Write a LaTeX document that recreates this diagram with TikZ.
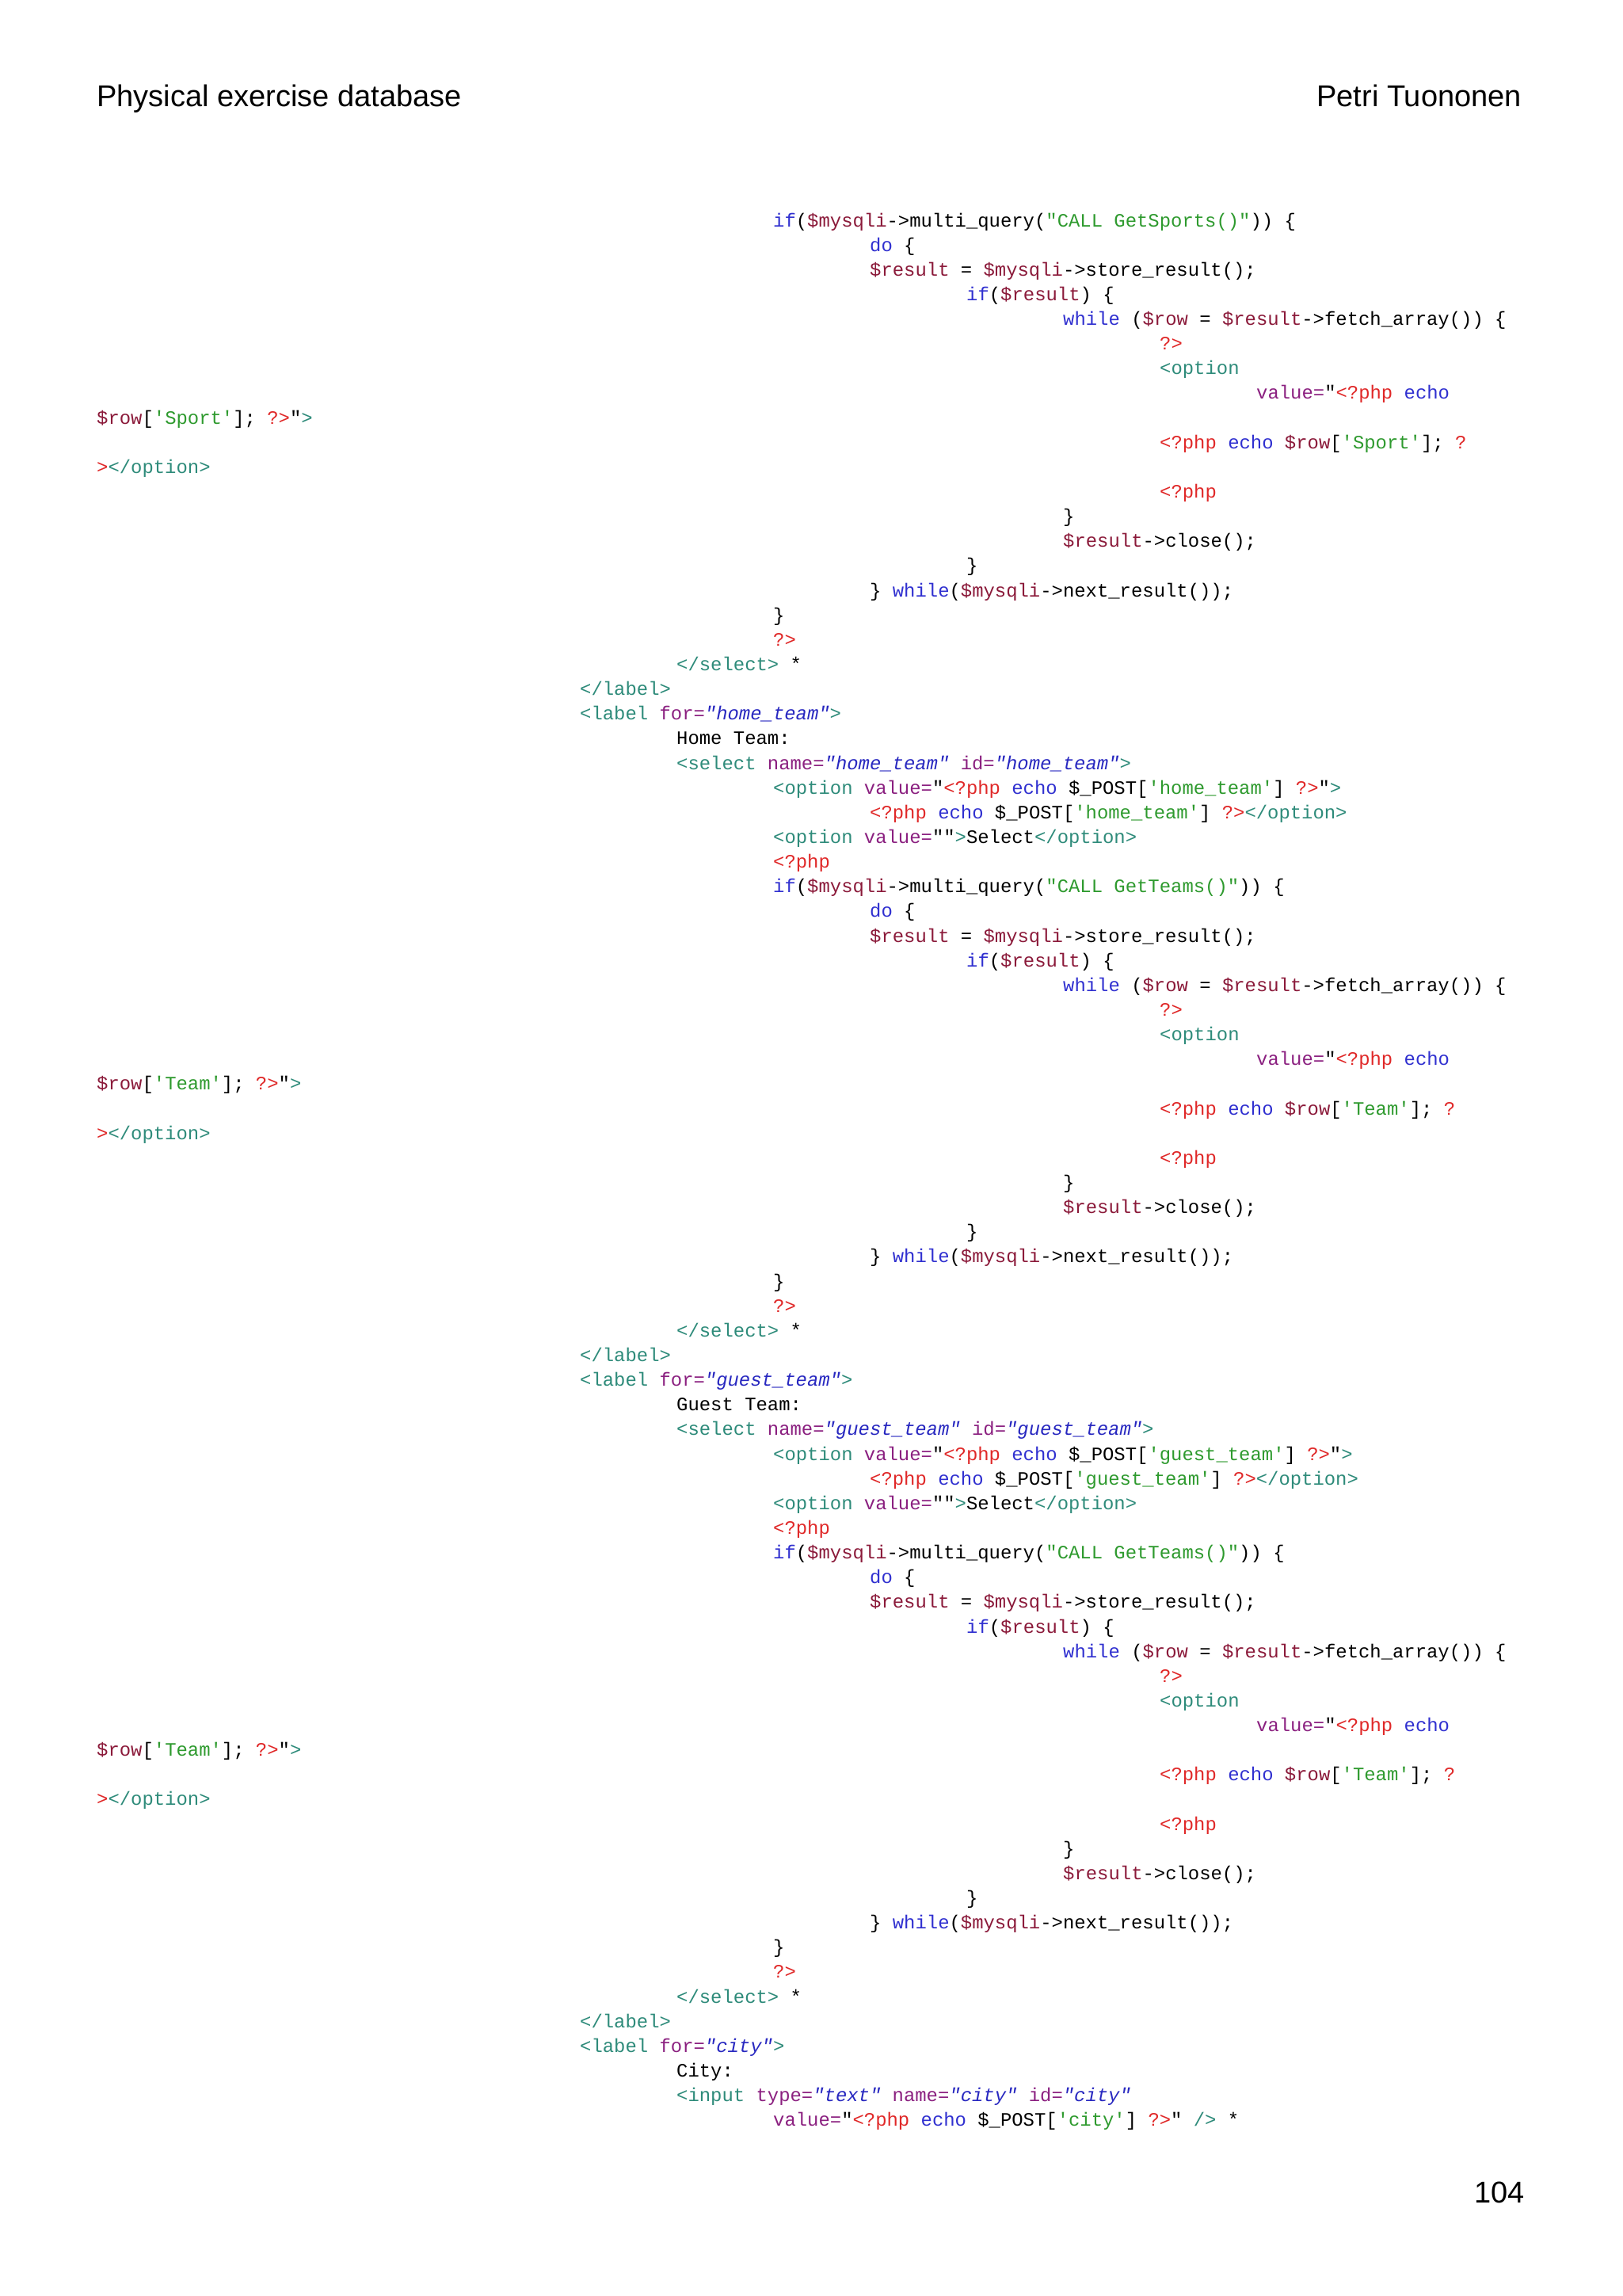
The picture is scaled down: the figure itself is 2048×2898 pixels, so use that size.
\documentclass[tikz,border=0pt]{standalone}
\usepackage{fontspec}
\newfontfamily\cf{Liberation Mono}
\newfontfamily\hf{Liberation Sans}
\definecolor{ckw}{HTML}{3030D0}
\definecolor{cva}{HTML}{8B1A3A}
\definecolor{cst}{HTML}{2E9A2E}
\definecolor{cph}{HTML}{E02828}
\definecolor{ctg}{HTML}{2E8B7A}
\definecolor{cat}{HTML}{8B2080}
\definecolor{cav}{HTML}{2828C0}
\newcommand\kw[1]{\textcolor{ckw}{#1}}
\newcommand\va[1]{\textcolor{cva}{#1}}
\newcommand\st[1]{\textcolor{cst}{#1}}
\newcommand\ph[1]{\textcolor{cph}{#1}}
\newcommand\tg[1]{\textcolor{ctg}{#1}}
\newcommand\at[1]{\textcolor{cat}{#1}}
\newcommand\av[1]{\textcolor{cav}{\itshape #1}}
\newcommand\cl[3]{\node[code] (l#1) at ({122+122*(#2)},{-(286+31.14*(#1-1))}) {#3};}
\newcommand\blk[3]{%
\cl{\the\numexpr#1\relax}{7}{\kw{if}(\va{\$mysqli}->multi\_query(\st{"CALL Get#2()"})) \{}
\cl{\the\numexpr#1+1\relax}{8}{\kw{do} \{}
\cl{\the\numexpr#1+2\relax}{8}{\va{\$result} = \va{\$mysqli}->store\_result();}
\cl{\the\numexpr#1+3\relax}{9}{\kw{if}(\va{\$result}) \{}
\cl{\the\numexpr#1+4\relax}{10}{\kw{while} (\va{\$row} = \va{\$result}->fetch\_array()) \{}
\cl{\the\numexpr#1+5\relax}{11}{\ph{?>}}
\cl{\the\numexpr#1+6\relax}{11}{\tg{<option}}
\cl{\the\numexpr#1+7\relax}{12}{\at{value=}"\ph{<?php} \kw{echo}}
\cl{\the\numexpr#1+8\relax}{0}{\va{\$row}[\st{'#3'}]; \ph{?>}"\tg{>}}
\cl{\the\numexpr#1+9\relax}{11}{\ph{<?php} \kw{echo} \va{\$row}[\st{'#3'}]; \ph{?}}
\cl{\the\numexpr#1+10\relax}{0}{\ph{>}\tg{</option>}}
\cl{\the\numexpr#1+11\relax}{11}{\ph{<?php}}
\cl{\the\numexpr#1+12\relax}{10}{\}}
\cl{\the\numexpr#1+13\relax}{10}{\va{\$result}->close();}
\cl{\the\numexpr#1+14\relax}{9}{\}}
\cl{\the\numexpr#1+15\relax}{8}{\} \kw{while}(\va{\$mysqli}->next\_result());}
\cl{\the\numexpr#1+16\relax}{7}{\}}
\cl{\the\numexpr#1+17\relax}{7}{\ph{?>}}
\cl{\the\numexpr#1+18\relax}{6}{\tg{</select>} *}}
\begin{document}
\begin{tikzpicture}[x=1pt,y=1pt,
  code/.style={anchor=base west,inner sep=0pt,font=\cf\fontsize{23.9}{28}\selectfont},
  head/.style={inner sep=0pt,font=\hf\fontsize{38}{46}\selectfont}]
\useasboundingbox[fill=white] (0,0) rectangle (2048,-2898);
\node[head,anchor=base west] (title) at (122,-135) {Physical exercise database};
\node[head,anchor=base east] (author) at (1921,-135) {Petri Tuononen};
\node[head,anchor=base east] (page) at (1925,-2780) {104};
\blk{1}{Sports}{Sport}
\cl{20}{5}{\tg{</label>}}
\cl{21}{5}{\tg{<label} \at{for=}\av{"home\_team"}\tg{>}}
\cl{22}{6}{Home Team:}
\cl{23}{6}{\tg{<select} \at{name=}\av{"home\_team"} \at{id=}\av{"home\_team"}\tg{>}}
\cl{24}{7}{\tg{<option} \at{value=}"\ph{<?php} \kw{echo} \$\_POST[\st{'home\_team'}] \ph{?>}"\tg{>}}
\cl{25}{8}{\ph{<?php} \kw{echo} \$\_POST[\st{'home\_team'}] \ph{?>}\tg{</option>}}
\cl{26}{7}{\tg{<option} \at{value=}""\tg{>}Select\tg{</option>}}
\cl{27}{7}{\ph{<?php}}
\blk{28}{Teams}{Team}
\cl{47}{5}{\tg{</label>}}
\cl{48}{5}{\tg{<label} \at{for=}\av{"guest\_team"}\tg{>}}
\cl{49}{6}{Guest Team:}
\cl{50}{6}{\tg{<select} \at{name=}\av{"guest\_team"} \at{id=}\av{"guest\_team"}\tg{>}}
\cl{51}{7}{\tg{<option} \at{value=}"\ph{<?php} \kw{echo} \$\_POST[\st{'guest\_team'}] \ph{?>}"\tg{>}}
\cl{52}{8}{\ph{<?php} \kw{echo} \$\_POST[\st{'guest\_team'}] \ph{?>}\tg{</option>}}
\cl{53}{7}{\tg{<option} \at{value=}""\tg{>}Select\tg{</option>}}
\cl{54}{7}{\ph{<?php}}
\blk{55}{Teams}{Team}
\cl{74}{5}{\tg{</label>}}
\cl{75}{5}{\tg{<label} \at{for=}\av{"city"}\tg{>}}
\cl{76}{6}{City:}
\cl{77}{6}{\tg{<input} \at{type=}\av{"text"} \at{name=}\av{"city"} \at{id=}\av{"city"}}
\cl{78}{7}{\at{value=}"\ph{<?php} \kw{echo} \$\_POST[\st{'city'}] \ph{?>}" \tg{/>} *}
\end{tikzpicture}
\end{document}
